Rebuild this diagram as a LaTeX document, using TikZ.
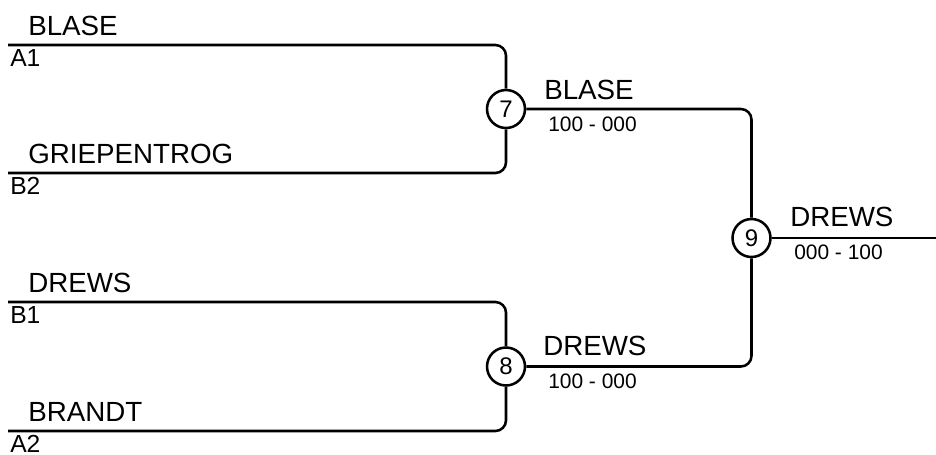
\documentclass[tikz,border=0pt]{standalone}
\usepackage{fontspec}
\setmainfont{Liberation Sans}
\usepackage{tikz}
\tikzset{
  namelbl/.style={anchor=base west, inner sep=0, font=\fontsize{20.8}{24}\selectfont},
  codelbl/.style={anchor=base west, inner sep=0, font=\fontsize{18.5}{22}\selectfont},
  scorelbl/.style={anchor=base west, inner sep=0, font=\fontsize{15.7}{19}\selectfont},
  match/.style={draw, circle, fill=white, inner sep=0, minimum size=28.5pt, font=\fontsize{18}{21}\selectfont},
}
% id, y of the line, name, seed code
\newcommand\seed[4]{
  \coordinate (#1) at (8, #2);
  \node [namelbl] (#1name) at (27, #2-10) {#3};
  \node [codelbl] (#1code) at (9, #2+21.5) {#4};
}

\begin{document}
\begin{tikzpicture}[x=0.75pt, y=-0.75pt, line width=1.9pt]
      \useasboundingbox (0, 0) rectangle (936, 454);

      \seed{a1}{45}{BLASE}{A1}
      \seed{b2}{173}{GRIEPENTROG}{B2}
      \seed{b1}{302}{DREWS}{B1}
      \seed{a2}{431}{BRANDT}{A2}

      \node [match] (m7) at (506, 109) {7};
      \node [match] (m8) at (506, 366.5) {8};
      \node [match] (m9) at (751.5, 238) {9};
      \coordinate (out) at (936, 238);

      \draw [rounded corners=8] (a1) -| (m7);
      \draw [rounded corners=8] (b2) -| (m7);
      \draw [rounded corners=8] (b1) -| (m8);
      \draw [rounded corners=8] (a2) -| (m8);
      \draw [rounded corners=8] (m7) -| (m9);
      \draw [rounded corners=8] (m8) -| (m9);
      \draw (m9) -- (out);

      \node [namelbl] (w7) at (543, 99) {BLASE};
      \node [scorelbl] (s7) at (547, 131) {100 - 000};
      \node [namelbl] (w8) at (542, 355.5) {DREWS};
      \node [scorelbl] (s8) at (547, 388) {100 - 000};
      \node [namelbl] (w9) at (789, 226) {DREWS};
      \node [scorelbl] (s9) at (793, 259) {000 - 100};
    \end{tikzpicture}
\end{document}
